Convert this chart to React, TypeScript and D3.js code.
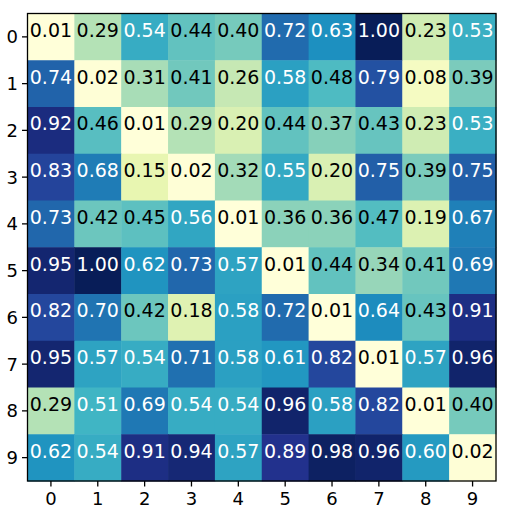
import React from "react";
import * as d3 from "d3";

const rowLabels = ["0", "1", "2", "3", "4", "5", "6", "7", "8", "9"];
const colLabels = ["0", "1", "2", "3", "4", "5", "6", "7", "8", "9"];

const row0 = [0.01, 0.29, 0.54, 0.44, 0.40, 0.72, 0.63, 1.00, 0.23, 0.53];
const row1 = [0.74, 0.02, 0.31, 0.41, 0.26, 0.58, 0.48, 0.79, 0.08, 0.39];
const row2 = [0.92, 0.46, 0.01, 0.29, 0.20, 0.44, 0.37, 0.43, 0.23, 0.53];
const row3 = [0.83, 0.68, 0.15, 0.02, 0.32, 0.55, 0.20, 0.75, 0.39, 0.75];
const row4 = [0.73, 0.42, 0.45, 0.56, 0.01, 0.36, 0.36, 0.47, 0.19, 0.67];
const row5 = [0.95, 1.00, 0.62, 0.73, 0.57, 0.01, 0.44, 0.34, 0.41, 0.69];
const row6 = [0.82, 0.70, 0.42, 0.18, 0.58, 0.72, 0.01, 0.64, 0.43, 0.91];
const row7 = [0.95, 0.57, 0.54, 0.71, 0.58, 0.61, 0.82, 0.01, 0.57, 0.96];
const row8 = [0.29, 0.51, 0.69, 0.54, 0.54, 0.96, 0.58, 0.82, 0.01, 0.40];
const row9 = [0.62, 0.54, 0.91, 0.94, 0.57, 0.89, 0.98, 0.96, 0.60, 0.02];

const matrix = [row0, row1, row2, row3, row4, row5, row6, row7, row8, row9];

const palette = ["#ffffd9", "#edf8b1", "#c7e9b4", "#7fcdbb", "#41b6c4", "#1d91c0", "#225ea8", "#253494", "#081d58"];

export default function App() {
  const W = 521, H = 515;
  const left = 27.5, right = 496, top = 13.5, bottom = 481;
  const x = d3.scaleBand<string>().domain(colLabels).range([left, right]);
  const y = d3.scaleBand<string>().domain(rowLabels).range([top, bottom]);
  const all = matrix.flat();
  const vmin = d3.min(all) as number;
  const vmax = d3.max(all) as number;
  const norm = d3.scaleLinear().domain([vmin, vmax]).range([0, 1]);
  const cmap = d3
    .scaleLinear<string>()
    .domain(palette.map((_, i) => i / (palette.length - 1)))
    .range(palette)
    .interpolate(d3.interpolateRgb)
    .clamp(true);
  const font = "'DejaVu Sans', sans-serif";
  return (
    <svg width={W} height={H} style={{ position: "absolute", left: 0, top: 0, background: "#fff" }}>
      {matrix.map((row, i) =>
        row.map((v, j) => (
          <rect
            key={`c${i}-${j}`}
            x={x(colLabels[j])}
            y={y(rowLabels[i])}
            width={x.bandwidth() + 0.5}
            height={y.bandwidth() + 0.5}
            fill={cmap(norm(v))}
          />
        ))
      )}
      {matrix.map((row, i) =>
        row.map((v, j) => (
          <text
            key={`t${i}-${j}`}
            x={(x(colLabels[j]) as number) + x.bandwidth() / 2}
            y={(y(rowLabels[i]) as number) + y.bandwidth() / 2}
            textAnchor="middle"
            fontFamily={font}
            fontSize={19}
            fill={v > 0.5 ? "#ffffff" : "#000000"}
          >
            {v.toFixed(2)}
          </text>
        ))
      )}
      <rect x={left} y={top} width={right - left} height={bottom - top} fill="none" stroke="#000" strokeWidth={1.3} />
      {colLabels.map((c) => {
        const cx = (x(c) as number) + x.bandwidth() / 2;
        return (
          <g key={`xt${c}`}>
            <line x1={cx} x2={cx} y1={bottom} y2={bottom + 5.5} stroke="#000" strokeWidth={1.3} />
            <text x={cx} y={505} textAnchor="middle" fontFamily={font} fontSize={18}>
              {c}
            </text>
          </g>
        );
      })}
      {rowLabels.map((r) => {
        const cy = (y(r) as number) + y.bandwidth() / 2;
        return (
          <g key={`yt${r}`}>
            <line x1={left - 5.5} x2={left} y1={cy} y2={cy} stroke="#000" strokeWidth={1.3} />
            <text x={left - 9.5} y={cy} dy="0.36em" textAnchor="end" fontFamily={font} fontSize={18}>
              {r}
            </text>
          </g>
        );
      })}
    </svg>
  );
}
